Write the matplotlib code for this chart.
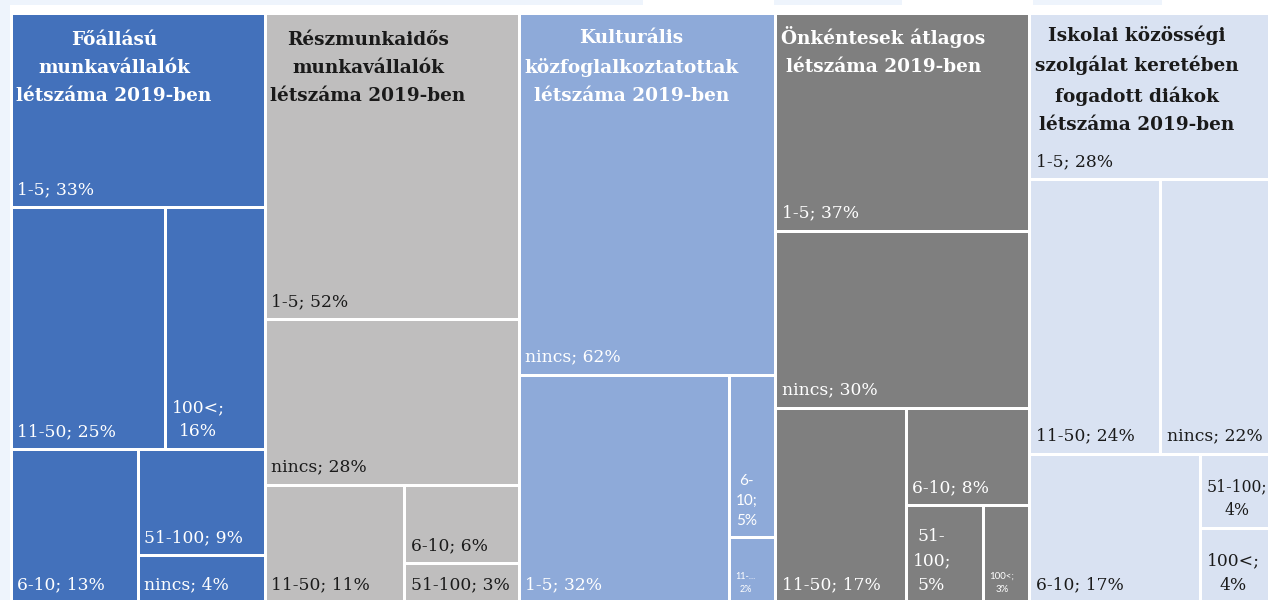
import matplotlib
matplotlib.use("Agg")
import matplotlib.pyplot as plt
from matplotlib.patches import Rectangle

# ---------------- data ----------------
group_titles = [
    "Főállású\nmunkavállalók\nlétszáma 2019-ben",
    "Részmunkaidős\nmunkavállalók\nlétszáma 2019-ben",
    "Kulturális\nközfoglalkoztatottak\nlétszáma 2019-ben",
    "Önkéntesek átlagos\nlétszáma 2019-ben",
    "Iskolai közösségi\nszolgálat keretében\nfogadott diákok\nlétszáma 2019-ben",
]

g1_categories = ["1-5", "11-50", "100<", "6-10", "51-100", "nincs"]
g1_values = [33, 25, 16, 13, 9, 4]

g2_categories = ["1-5", "nincs", "11-50", "6-10", "51-100"]
g2_values = [52, 28, 11, 6, 3]

g3_categories = ["nincs", "1-5", "6-10", "11-50"]
g3_values = [62, 32, 5, 2]

g4_categories = ["1-5", "nincs", "11-50", "6-10", "51-100", "100<"]
g4_values = [37, 30, 17, 8, 5, 3]

g5_categories = ["1-5", "11-50", "nincs", "6-10", "51-100", "100<"]
g5_values = [28, 24, 22, 17, 4, 4]

group_categories = [g1_categories, g2_categories, g3_categories, g4_categories, g5_categories]
group_values = [g1_values, g2_values, g3_values, g4_values, g5_values]

# ---------------- styles ----------------
face_colors = ["#4371BB", "#BFBEBE", "#8EAAD9", "#7F7F7F", "#D9E2F2"]
text_colors = ["#FFFFFF", "#1A1A1A", "#FFFFFF", "#FFFFFF", "#1A1A1A"]

SERIF = "DejaVu Serif"
TITLE_SIZE = 13.3
LABEL_SIZE = 12.3

# label wrapping modes for narrow boxes
wrap_style = {
    (0, "100<"): "semi",
    (2, "6-10"): "dash",
    (2, "11-50"): "trunc",
    (3, "51-100"): "dash",
    (3, "100<"): "semi",
    (4, "51-100"): "semi",
    (4, "100<"): "semi",
}
# shrunken labels
small_font = {
    (2, "6-10"): ("Lato", 11.0),
    (2, "11-50"): ("Lato", 6.5),
    (3, "100<"): ("Lato", 7.0),
    (4, "51-100"): (SERIF, 11.3),
}

W_PX, H_PX = 1268, 600
fig = plt.figure(figsize=(W_PX / 100, H_PX / 100), dpi=100, facecolor="white")

# light background remnants
bg = "#EEF4FC"
for (x0, y0, w, h) in [(0, 0, 10, 600), (0, 0, 643, 5), (774, 0, 128, 5), (1033, 0, 129, 5)]:
    fig.patches.append(Rectangle((x0 / W_PX, 1 - (y0 + h) / H_PX), w / W_PX, h / H_PX,
                                 transform=fig.transFigure, facecolor=bg, edgecolor="none"))

TM_LEFT, TM_TOP = 10.5, 12.5
TM_W, TM_H = 1270.0, 590.0
ax = fig.add_axes([TM_LEFT / W_PX, 1 - (TM_TOP + TM_H) / H_PX, TM_W / W_PX, TM_H / H_PX])
ax.set_xlim(0, TM_W)
ax.set_ylim(TM_H, 0)
ax.axis("off")
ax.patch.set_alpha(0)


def worst(row, short):
    s = sum(row)
    length = s / short
    return max(max(length / (a / length), (a / length) / length) for a in row)


def squarify(values, x, y, w, h, tol=1.5):
    total = float(sum(values))
    areas = [v / total * w * h for v in values]
    rects = []
    i = 0
    while i < len(areas):
        short = min(w, h)
        row = [areas[i]]
        cur = worst(row, short)
        j = i + 1
        while j < len(areas):
            new = worst(row + [areas[j]], short)
            if new <= cur * tol:
                row.append(areas[j])
                cur = new
                j += 1
            else:
                break
        s = sum(row)
        if w >= h:
            sw = s / h
            yy = y
            for a in row:
                rh = a / sw
                rects.append((x, yy, sw, rh))
                yy += rh
            x += sw
            w -= sw
        else:
            sh = s / w
            xx = x
            for a in row:
                rw = a / sh
                rects.append((xx, y, rw, sh))
                xx += rw
            y += sh
            h -= sh
        i = j
    return rects


def label_text(gi, cat, val):
    mode = wrap_style.get((gi, cat))
    if mode == "semi":
        return f"{cat};\n{val}%"
    if mode == "dash":
        return cat.replace("-", "-\n") + f";\n{val}%"
    if mode == "trunc":
        return cat.split("-")[0] + f"-...\n{val}%"
    return f"{cat}; {val}%"


TITLE_STEP = 29.0
sums = [sum(v) for v in group_values]
grand = float(sum(sums))
x0 = 0.0
LW = 3 * 0.72
for gi, (title, cats, vals) in enumerate(zip(group_titles, group_categories, group_values)):
    gw = sums[gi] / grand * TM_W
    rects = squarify(vals, x0, 0.0, gw, TM_H)
    for (rx, ry, rw, rh), cat, val in zip(rects, cats, vals):
        ax.add_patch(Rectangle((rx, ry), rw, rh, facecolor=face_colors[gi],
                               edgecolor="white", linewidth=LW))
        fam, size = small_font.get((gi, cat), (SERIF, LABEL_SIZE))
        ax.text(rx + 6.5, ry + rh - 9.0, label_text(gi, cat, val),
                ha="left", va="bottom", multialignment="center",
                fontsize=size, family=fam, color=text_colors[gi], linespacing=1.55)
    n_lines = title.count("\n") + 1
    ax.text(x0 + 6.0, 30.5 + (n_lines - 1) * TITLE_STEP, title, ha="left", va="baseline",
            multialignment="center", fontsize=TITLE_SIZE, family=SERIF, fontweight="bold",
            color=text_colors[gi], linespacing=1.72)
    x0 += gw

fig.savefig("out.png", dpi=100, facecolor=fig.get_facecolor())
